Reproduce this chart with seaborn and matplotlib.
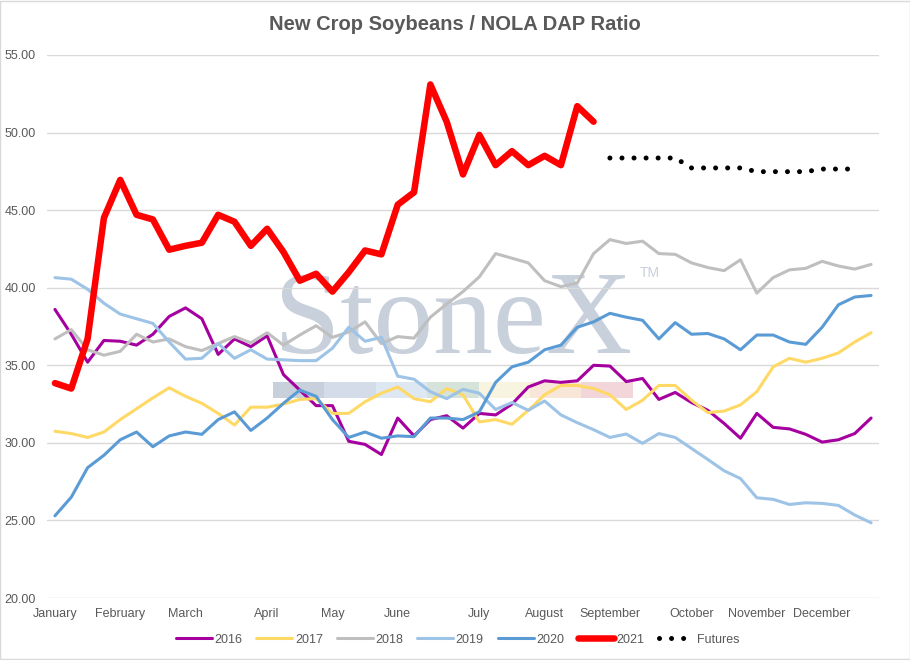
import matplotlib
matplotlib.use('Agg')
import matplotlib.pyplot as plt
from matplotlib.patches import Rectangle
from matplotlib.ticker import FuncFormatter
import seaborn as sns

# weekly ratio values, week 0 = first week of January
months = ['January', 'February', 'March', 'April', 'May', 'June', 'July',
          'August', 'September', 'October', 'November', 'December']
month_weeks = [0, 4, 8, 13, 17, 21, 26, 30, 34, 39, 43, 47]

y2016 = [38.6, 37.0, 35.2, 36.6, 36.55, 36.3, 37.0, 38.15, 38.7, 38.0, 35.7, 36.7, 36.2,
         36.9, 34.4, 33.4, 32.4, 32.4, 30.1, 29.9, 29.25, 31.6, 30.45, 31.5, 31.75, 30.95,
         31.9, 31.8, 32.5, 33.6, 34.0, 33.9, 34.0, 35.0, 34.95, 33.95, 34.15, 32.8, 33.25,
         32.6, 32.1, 31.25, 30.3, 31.9, 31.0, 30.9, 30.55, 30.05, 30.2, 30.6, 31.6]
y2017 = [30.75, 30.6, 30.35, 30.7, 31.5, 32.2, 32.9, 33.55, 33.0, 32.55, 31.9, 31.15, 32.3,
         32.3, 32.5, 32.8, 32.85, 31.9, 31.9, 32.65, 33.2, 33.6, 32.85, 32.65, 33.5, 33.1,
         31.35, 31.5, 31.2, 32.1, 33.1, 33.7, 33.7, 33.5, 33.1, 32.15, 32.75, 33.7, 33.7,
         32.75, 31.95, 32.05, 32.45, 33.3, 34.9, 35.45, 35.2, 35.45, 35.8, 36.5, 37.1]
y2018 = [36.7, 37.3, 36.0, 35.65, 35.9, 37.0, 36.5, 36.7, 36.2, 35.95, 36.4, 36.85, 36.45,
         37.1, 36.3, 36.95, 37.55, 36.8, 37.15, 37.8, 36.4, 36.85, 36.75, 38.1, 38.95, 39.75,
         40.7, 42.2, 41.9, 41.6, 40.45, 40.07, 40.3, 42.2, 43.1, 42.85, 43.0, 42.2, 42.15,
         41.6, 41.3, 41.1, 41.8, 39.65, 40.65, 41.15, 41.25, 41.7, 41.4, 41.2, 41.5]
y2019 = [40.65, 40.55, 39.9, 39.0, 38.3, 38.0, 37.7, 36.5, 35.4, 35.45, 36.4, 35.45, 36.0,
         35.4, 35.35, 35.3, 35.3, 36.1, 37.45, 36.55, 36.8, 34.3, 34.1, 33.3, 32.85, 33.45,
         33.2, 32.15, 32.6, 32.1, 32.7, 31.8, 31.3, 30.85, 30.35, 30.57, 29.97, 30.6, 30.35,
         29.64, 28.93, 28.2, 27.7, 26.46, 26.36, 26.03, 26.14, 26.1, 25.97, 25.35, 24.85]
y2020 = [25.3, 26.5, 28.4, 29.2, 30.2, 30.7, 29.75, 30.45, 30.7, 30.55, 31.5, 32.0, 30.8,
         31.6, 32.55, 33.4, 33.0, 31.5, 30.35, 30.7, 30.3, 30.45, 30.4, 31.6, 31.6, 31.5,
         32.0, 33.9, 34.9, 35.2, 36.0, 36.3, 37.45, 37.8, 38.35, 38.1, 37.9, 36.7, 37.75,
         37.0, 37.05, 36.7, 36.0, 36.95, 36.95, 36.5, 36.35, 37.45, 38.9, 39.4, 39.5]
y2021 = [33.85, 33.5, 36.7, 44.5, 46.95, 44.7, 44.4, 42.45, 42.7, 42.9, 44.7, 44.25, 42.7,
         43.8, 42.3, 40.45, 40.9, 39.75, 41.0, 42.4, 42.15, 45.35, 46.15, 53.1, 50.7, 47.3,
         49.85, 47.9, 48.8, 47.9, 48.5, 47.9, 51.7, 50.7]
futures_start = 34
futures = [48.36, 48.36, 48.36, 48.36, 48.36, 47.72, 47.72, 47.72, 47.72,
           47.48, 47.48, 47.48, 47.48, 47.65, 47.65, 47.65]

sns.set_theme(style='white')
plt.rcParams['font.family'] = ['Liberation Sans', 'DejaVu Sans']
grey_txt = '#595959'

fig, ax = plt.subplots(figsize=(9.1, 6.6), dpi=100)
fig.subplots_adjust(left=0.0516, right=0.966, bottom=0.0939, top=0.9167)

# StoneX watermark behind the lines
ax.text(0.488, 0.451, 'StoneX', transform=ax.transAxes, ha='center', va='baseline',
        fontsize=86, family='Liberation Serif', color='#C8D0DB', zorder=0)
ax.text(0.713, 0.598, 'TM', transform=ax.transAxes, ha='left', va='center',
        fontsize=10, color='#C8D0DB', zorder=0)
bar_cols = ['#C8D0DC', '#D3DCE8', '#DEE8F2', '#D6E3DA', '#F7F4DF', '#F8E7D8', '#F2D6DA']
for i, c in enumerate(bar_cols):
    ax.add_patch(Rectangle((0.2716 + i * 0.0618, 0.368), 0.0618, 0.0295,
                           transform=ax.transAxes, color=c, zorder=0.5, lw=0))

series = [('2016', y2016, '#A5009F'), ('2017', y2017, '#FFD966'),
          ('2018', y2018, '#BFBFBF'), ('2019', y2019, '#9DC3E6'),
          ('2020', y2020, '#5B9BD5')]
for name, vals, col in series:
    sns.lineplot(x=list(range(len(vals))), y=vals, ax=ax, color=col, linewidth=2.2,
                 label=name, solid_joinstyle='round', solid_capstyle='round')

sns.lineplot(x=list(range(len(y2021))), y=y2021, ax=ax, color='#FF0000', linewidth=4.7,
             label='2021', solid_joinstyle='round', solid_capstyle='round')
sns.lineplot(x=list(range(futures_start, futures_start + len(futures))), y=futures, ax=ax,
             color='black', linewidth=3.6, linestyle=(0, (0.01, 2.4)),
             dash_capstyle='round', label='Futures')

ax.set_xlim(-0.49, 50.49)
ax.set_ylim(20, 55)
ax.set_yticks(range(20, 56, 5))
ax.yaxis.set_major_formatter(FuncFormatter(lambda v, p: f'{v:.2f}'))
ax.set_xticks(month_weeks)
ax.set_xticklabels(months)
ax.tick_params(axis='both', length=0, labelsize=9, labelcolor=grey_txt)
ax.tick_params(axis='y', pad=8)
ax.tick_params(axis='x', pad=7)
ax.yaxis.grid(True, color='#D9D9D9', linewidth=1)
ax.xaxis.grid(False)
for s in ax.spines.values():
    s.set_visible(False)
ax.set_xlabel('')
ax.set_ylabel('')

ax.get_legend().remove()
h, l = ax.get_legend_handles_labels()
fig.legend(h, l, loc='center', bbox_to_anchor=(0.503, 0.031), ncol=7, frameon=False,
           fontsize=9, handlelength=2.9, handletextpad=0.2, columnspacing=1.1,
           labelcolor=grey_txt)

fig.text(0.5, 1 - 25 / 660, 'New Crop Soybeans / NOLA DAP Ratio', ha='center', va='center',
         fontsize=14.5, fontweight='bold', color=grey_txt)
fig.patches.append(Rectangle((0.0005, 0.0008), 0.999, 0.998, transform=fig.transFigure,
                             fill=False, edgecolor='#D9D9D9', lw=1))

fig.savefig('out.png', dpi=100)
